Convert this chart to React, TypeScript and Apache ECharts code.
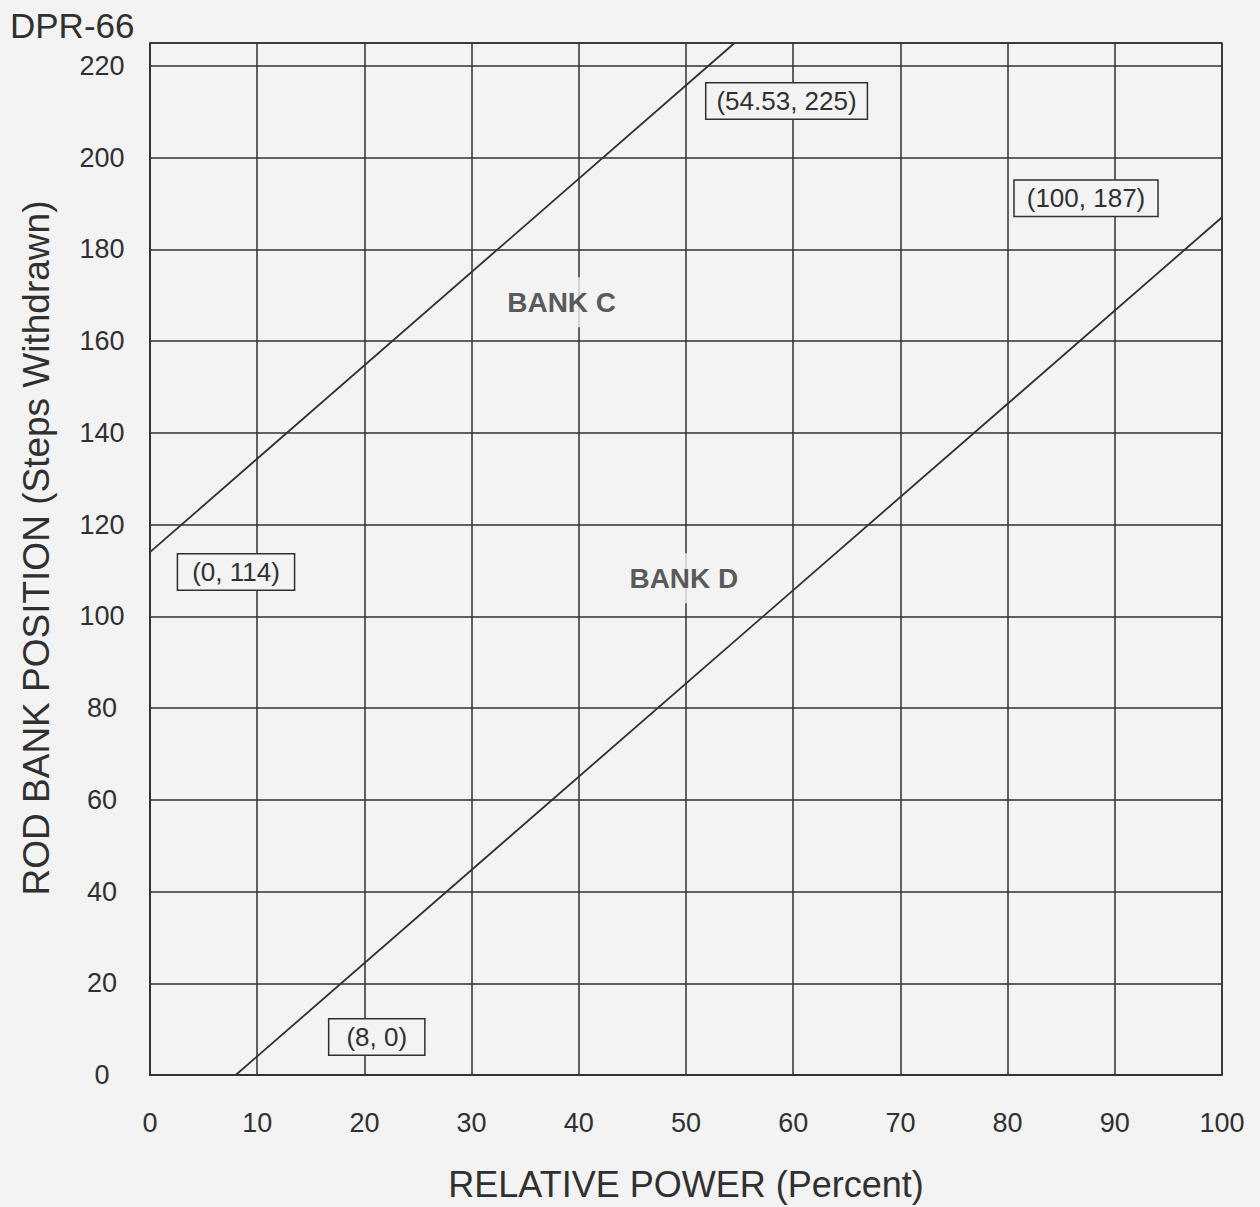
import React, { useEffect, useRef } from "react";
import * as echarts from "echarts";

const xTicks = [0, 10, 20, 30, 40, 50, 60, 70, 80, 90, 100];
const yTicks = [0, 20, 40, 60, 80, 100, 120, 140, 160, 180, 200, 220];
const bankCPoints: [number, number][] = [[0, 114], [54.53, 225]];
const bankDPoints: [number, number][] = [[8, 0], [100, 187]];
const bankCLabels = ["(0, 114)", "(54.53, 225)"];
const bankDLabels = ["(8, 0)", "(100, 187)"];
const regionNames = ["BANK C", "BANK D"];
const regionPositions: [number, number][] = [[38.4, 168.5], [49.8, 108.3]];

const INK = "#303030";
const BG = "#f3f3f3";
const CLEAR = "rgba(0,0,0,0)";
const FONT = "'Liberation Sans', Arial, sans-serif";

export default function App() {
  const ref = useRef<HTMLDivElement>(null);
  useEffect(() => {
    if (!ref.current) return;
    const chart = echarts.init(ref.current, undefined, { renderer: "svg" });
    const boxLabel = (offset: [number, number], padX: number) => ({
      show: true,
      position: "inside",
      offset,
      color: INK,
      fontFamily: FONT,
      fontSize: 26,
      borderColor: INK,
      borderWidth: 1.5,
      padding: [5, padX, 4, padX],
      backgroundColor: BG,
    });
    const cOffsets: [number, number][] = [[86, 20], [52, 58]];
    const cPads = [14, 10];
    const dOffsets: [number, number][] = [[141, -38], [-136, -19]];
    const dPads = [17, 12];
    chart.setOption({
      animation: false,
      backgroundColor: BG,
      title: {
        text: "DPR-66",
        left: 5,
        top: 3,
        textStyle: { color: INK, fontFamily: FONT, fontSize: 35, fontWeight: "normal" },
      },
      grid: { left: 150, right: 38, top: 43, bottom: 120, show: true, borderColor: INK, borderWidth: 1.5 },
      xAxis: {
        type: "value",
        min: xTicks[0],
        max: xTicks[xTicks.length - 1],
        interval: 10,
        name: "RELATIVE POWER (Percent)",
        nameLocation: "middle",
        nameGap: 91,
        nameTextStyle: { color: INK, fontFamily: FONT, fontSize: 36 },
        axisLine: { show: true, lineStyle: { color: INK, width: 1.5 } },
        axisTick: { show: false },
        axisLabel: { color: INK, fontFamily: FONT, fontSize: 27, margin: 34 },
        splitLine: { show: true, lineStyle: { color: INK, width: 1.5 } },
      },
      yAxis: {
        type: "value",
        min: yTicks[0],
        max: 225,
        interval: 20,
        name: "ROD BANK POSITION (Steps Withdrawn)",
        nameLocation: "middle",
        nameGap: 95,
        nameTextStyle: { color: INK, fontFamily: FONT, fontSize: 37, padding: [0, 0, 0, 22] },
        axisLine: { show: true, lineStyle: { color: INK, width: 1.5 } },
        axisTick: { show: false },
        axisLabel: {
          color: INK,
          fontFamily: FONT,
          fontSize: 27,
          margin: 48,
          align: "center",
          showMaxLabel: false,
          formatter: (v: number) => (yTicks.includes(v) ? String(v) : ""),
        },
        splitLine: { show: true, lineStyle: { color: INK, width: 1.5 } },
      },
      series: [
        {
          name: "Bank C",
          type: "line",
          showSymbol: true,
          symbol: "circle",
          symbolSize: 2,
          itemStyle: { color: CLEAR, borderColor: CLEAR },
          lineStyle: { color: INK, width: 1.8 },
          data: bankCPoints.map((p, i) => ({ value: p, label: boxLabel(cOffsets[i], cPads[i]), name: bankCLabels[i] })),
          label: { show: true, formatter: (p: any) => p.name },
        },
        {
          name: "Bank D",
          type: "line",
          showSymbol: true,
          symbol: "circle",
          symbolSize: 2,
          itemStyle: { color: CLEAR, borderColor: CLEAR },
          lineStyle: { color: INK, width: 1.8 },
          data: bankDPoints.map((p, i) => ({ value: p, label: boxLabel(dOffsets[i], dPads[i]), name: bankDLabels[i] })),
          label: { show: true, formatter: (p: any) => p.name },
        },
        {
          name: "Regions",
          type: "scatter",
          symbol: "circle",
          symbolSize: 2,
          itemStyle: { color: CLEAR },
          data: regionPositions.map((p, i) => ({ value: p, name: regionNames[i] })),
          label: {
            show: true,
            position: "inside",
            formatter: (p: any) => p.name,
            color: INK,
            fontFamily: FONT,
            fontSize: 28,
            fontWeight: "bold",
            backgroundColor: BG,
            padding: [10, 8, 12, 8],
          },
        },
      ],
    });
    return () => chart.dispose();
  }, []);
  return <div ref={ref} style={{ width: 1260, height: 1207, position: "absolute", left: 0, top: 0 }} />;
}
